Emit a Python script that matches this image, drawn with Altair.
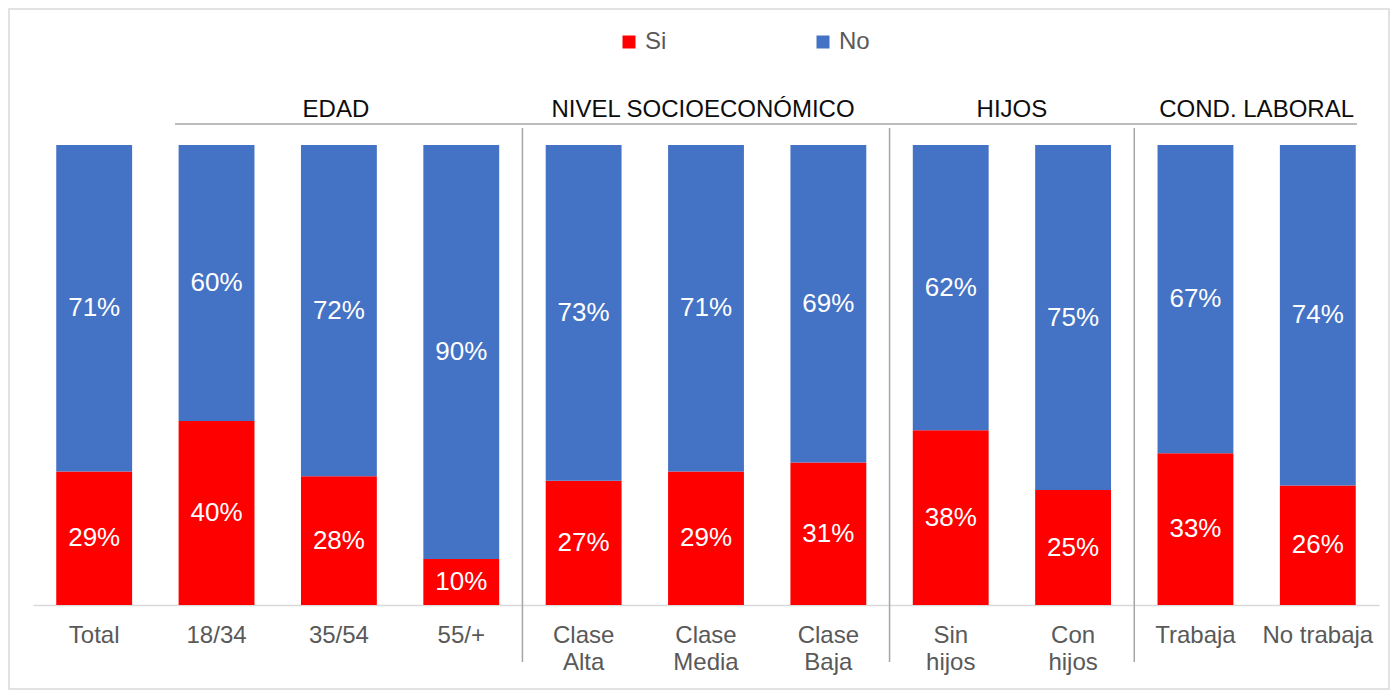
import altair as alt
import pandas as pd

categories = ["Total", "18/34", "35/54", "55/+", "Clase\nAlta", "Clase\nMedia",
              "Clase\nBaja", "Sin\nhijos", "Con\nhijos", "Trabaja", "No trabaja"]
si_values = [29, 40, 28, 10, 27, 29, 31, 38, 25, 33, 26]
no_values = [71, 60, 72, 90, 73, 71, 69, 62, 75, 67, 74]
series = ["Si", "No"]
colors = ["#ff0000", "#4472c4"]

header_texts_mid = ["EDAD", "NIVEL SOCIOECONÓMICO"]
header_anchor_mid = ["35/54", "Clase\nMedia"]
header_texts_edge = ["HIJOS", "COND. LABORAL"]
header_anchor_edge = ["Con\nhijos", "No trabaja"]
separator_at = ["Clase\nAlta", "Sin\nhijos", "Trabaja"]
header_line_start = ["18/34"]
header_line_end = ["No trabaja"]

rows = []
for c, s, n in zip(categories, si_values, no_values):
    rows.append({"cat": c, "series": "Si", "value": s, "ord": 0})
    rows.append({"cat": c, "series": "No", "value": n, "ord": 1})
df = pd.DataFrame(rows)

FONT = "Liberation Sans"

xscale = alt.Scale(domain=categories, paddingInner=0, paddingOuter=0)
yscale = alt.Scale(domain=[0, 100], nice=False, zero=True)

stacked = alt.Chart(df).transform_stack(
    stack="value", groupby=["cat"], as_=["v0", "v1"],
    sort=[alt.SortField("ord", order="ascending")]
)

bars = stacked.mark_bar(width=alt.RelativeBandSize(0.62)).encode(
    x=alt.X("cat:N", scale=xscale, title=None),
    y=alt.Y("v0:Q", scale=yscale, axis=None),
    y2="v1:Q",
    color=alt.Color("series:N", scale=alt.Scale(domain=series, range=colors),
                    legend=alt.Legend(orient="none", legendX=584, legendY=-115,
                                      direction="horizontal", title=None,
                                      symbolType="square", symbolSize=169,
                                      symbolStrokeWidth=0, labelFontSize=24,
                                      labelColor="#595959", labelFont=FONT,
                                      columnPadding=144, labelOffset=4, padding=0)),
)

labels = stacked.transform_calculate(
    mid="(datum.v0 + datum.v1) / 2",
    lbl="datum.value + '%'"
).mark_text(color="white", fontSize=26, font=FONT, baseline="middle").encode(
    x=alt.X("cat:N", title=None),
    y=alt.Y("mid:Q", axis=None),
    text="lbl:N",
)

sep_df = pd.DataFrame({"cat": separator_at})
separators = alt.Chart(sep_df).mark_rule(color="#a6a6a6", strokeWidth=1.5).encode(
    x=alt.X("cat:N", bandPosition=0, title=None),
    y=alt.value(-17),
    y2=alt.value(517),
)

hl_df = pd.DataFrame({"cat": header_line_start, "cat_end": header_line_end})
header_line = alt.Chart(hl_df).mark_rule(color="#a6a6a6", strokeWidth=1.5).encode(
    x=alt.X("cat:N", bandPosition=0.16, title=None),
    x2=alt.X2("cat_end:N", bandPosition=0.82, title=None),
    y=alt.value(-21),
)

hm_df = pd.DataFrame({"cat": header_anchor_mid, "txt": header_texts_mid})
header_mid = alt.Chart(hm_df).mark_text(fontSize=24, font=FONT, color="#0d0d0d",
                                         baseline="alphabetic", dx=-3).encode(
    x=alt.X("cat:N", title=None),
    y=alt.value(-28),
    text="txt:N",
)

he_df = pd.DataFrame({"cat": header_anchor_edge, "txt": header_texts_edge})
header_edge = alt.Chart(he_df).mark_text(fontSize=24, font=FONT, color="#0d0d0d",
                                          baseline="alphabetic").encode(
    x=alt.X("cat:N", bandPosition=0, title=None),
    y=alt.value(-28),
    text="txt:N",
)

frame = alt.Chart(pd.DataFrame({"a": [0]})).mark_rect(
    fillOpacity=0, stroke="#d9d9d9", strokeWidth=1.5
).encode(
    x=alt.value(-24), x2=alt.value(1356), y=alt.value(-136), y2=alt.value(544)
)

chart = alt.layer(frame, bars, labels, separators, header_line, header_mid, header_edge).properties(
    width=1346, height=460,
    padding={"left": 25, "top": 137, "right": 13, "bottom": 85},
    autosize=alt.AutoSizeParams(type="none"),
    background="white",
).configure(
    font=FONT,
).configure_view(
    stroke=None,
).configure_axisX(
    labelAngle=0, ticks=False, domainColor="#d9d9d9", domainWidth=1.5,
    labelFontSize=24, labelColor="#595959", labelFont=FONT, labelPadding=18,
    labelLineHeight=27, labelExpr="split(datum.label, '\\n')", grid=False,
    title=None,
)

chart.save("out.html", embed_options={"renderer": "svg", "actions": False})
